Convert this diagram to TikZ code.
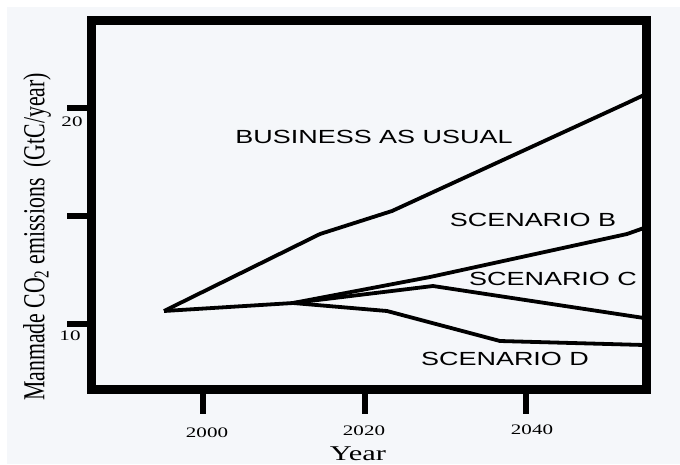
\documentclass[tikz,border=0pt]{standalone}
\usepackage{fontspec}
\usepackage{graphicx}
\setmainfont{Liberation Serif}
\newfontfamily\labelfont{Liberation Sans}
\definecolor{paper}{HTML}{F5F7FA}
\newcommand{\widen}[2]{\scalebox{#1}[1]{#2}}
\tikzset{
  frame/.style={line width=9pt},
  tick/.style={line width=6.5pt},
  curve/.style={line width=3.8pt, line join=round},
  scen/.style={inner sep=0pt, font=\labelfont\fontsize{19}{19}\selectfont},
  num/.style={inner sep=0pt, font=\fontsize{14.5}{14.5}\selectfont},
}
\begin{document}
\begin{tikzpicture}[x=1pt,y=-1pt]
  \useasboundingbox (0,0) rectangle (680,464);
  \fill[white] (0,0) rectangle (680,464);
  \fill[paper] (7,7) rectangle (680,464);

  % plot frame and ticks
  \draw[frame] (91,20) rectangle (646,389);
  \draw[tick] (67,108) -- (87,108);
  \draw[tick] (67,216) -- (87,216);
  \draw[tick] (67,324) -- (87,324);
  \draw[tick] (203,394) -- (203,414);
  \draw[tick] (365,394) -- (365,414);
  \draw[tick] (526,394) -- (526,414);

  \node[num] (y20) at (72,122) {\widen{1.45}{20}};
  \node[num] (y10) at (70,336) {\widen{1.45}{10}};
  \node[num] (x2000) at (207,433) {\widen{1.45}{2000}};
  \node[num] (x2020) at (364,431) {\widen{1.45}{2020}};
  \node[num] (x2040) at (532,430) {\widen{1.45}{2040}};
  \node[inner sep=0pt, font=\fontsize{21}{21}\selectfont] (year) at (358,454) {\widen{1.45}{Year}};
  \node[inner sep=0pt, rotate=90, font=\fontsize{21.8}{21.8}\selectfont] (ylab) at (37,237)
    {\scalebox{1}[1.4]{Manmade CO\textsubscript{2} emissions\ \ (GtC/year)}};

  % emission paths
  \coordinate (start) at (164,311);
  \coordinate (branch) at (293,303);
  \draw[curve] (start) -- (320,234) -- (392,211) -- (627,103) -- (644,95);
  \draw[curve] (start) -- (branch);
  \draw[curve] (branch) -- (430,277) -- (627,234) -- (644,228);
  \draw[curve] (branch) -- (433,286) -- (644,318);
  \draw[curve] (branch) -- (387,311) -- (500,341) -- (644,345);

  \node[scen] (bau) at (374,137) {\widen{1.42}{BUSINESS AS USUAL}};
  \node[scen] (scb) at (533,220) {\widen{1.42}{SCENARIO B}};
  \node[scen] (scc) at (553,279) {\widen{1.42}{SCENARIO C}};
  \node[scen] (scd) at (505,359) {\widen{1.42}{SCENARIO D}};
\end{tikzpicture}
\end{document}
